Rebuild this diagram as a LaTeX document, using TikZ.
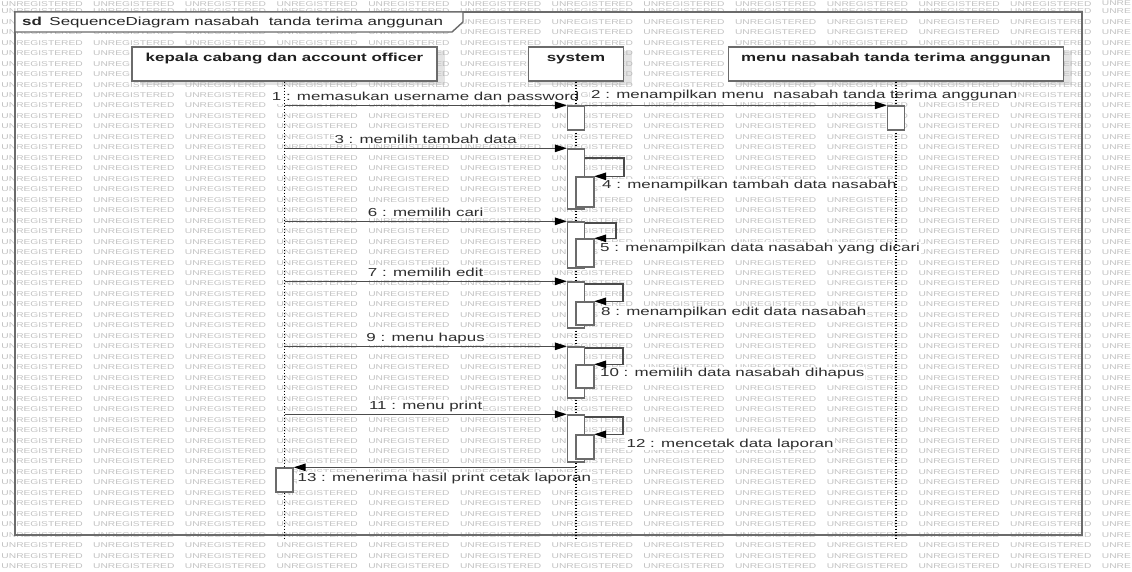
\documentclass[tikz,border=0pt]{standalone}
\usepackage{fontspec}
\setmainfont{Liberation Sans}[FakeStretch=1.46]
\usetikzlibrary{arrows.meta,shadows,backgrounds,calc}

\begin{document}
\begin{tikzpicture}[x=1pt,y=-1pt,
 font=\fontsize{11.6}{14}\selectfont,
 wm/.style={font=\fontsize{7}{7}\selectfont, text=black!24, inner sep=0, anchor=west},
 frame/.style={draw=black!58, line width=1.4pt},
 actor/.style={draw=black!58, line width=1.4pt, fill=white, inner sep=0,
   drop shadow={shadow xshift=8pt, shadow yshift=-4pt, fill=black!30, opacity=0.35}},
 acttext/.style={font=\fontsize{11.6}{14}\selectfont\bfseries, text=black!88, anchor=base, inner sep=0},
 life/.style={black, line width=1.1pt, dash pattern=on 1.3pt off 1.7pt},
 actbox/.style={draw=black!58, line width=1.4pt, fill=white, minimum width=17pt, inner sep=0},
 msg/.style={draw=black!70, line width=1.3pt, -{Triangle[length=12pt,width=7.5pt,color=black]}},
 lab/.style={fill=white, inner sep=1pt, text=black!82, anchor=base},
 labw/.style={fill=white, inner sep=1pt, text=black!82, anchor=base west}
]
\useasboundingbox (0,0) rectangle (1132,572);

% frame
\draw[frame] (15,12) rectangle (1082,535);
\draw[frame, fill=white] (15,12) -- (463,12) -- (463,22) -- (452,32) -- (15,32) -- cycle;
\node[anchor=base west, inner sep=0, text=black!85] (title) at (22,26) {\textbf{sd}\hspace{7.5pt}SequenceDiagram nasabah\ \ tanda terima anggunan};

% actors
\node[actor, minimum width=305pt, minimum height=34pt] (A) at (284.5,64) {};
\node[actor, minimum width=95pt, minimum height=34pt] (S) at (576,64) {};
\node[actor, minimum width=335pt, minimum height=34pt] (M) at (896,64) {};
\node[acttext] (At) at (284.5,61.7) {kepala cabang dan account officer};
\node[acttext] (St) at (576,61.7) {system};
\node[acttext] (Mt) at (896,61.7) {menu nasabah tanda terima anggunan};

% lifeline ends
\coordinate (Ae) at (284.5,540);
\coordinate (Se) at (576,540);
\coordinate (Me) at (896,540);
\draw[life] (A) -- (Ae);
\draw[life] (S) -- (Se);
\draw[life] (M) -- (Me);

% activation boxes
\node[actbox, minimum height=24pt] (S1) at (576,118) {};
\node[actbox, minimum height=24pt] (M1) at (896,118) {};
\node[actbox, minimum height=60pt] (S3) at (576,179) {};
\node[actbox, minimum height=30pt] (S4) at (585,192) {};
\node[actbox, minimum height=46pt] (S6) at (576,245) {};
\node[actbox, minimum height=28pt] (S5) at (585,253) {};
\node[actbox, minimum height=46pt] (S7) at (576,305) {};
\node[actbox, minimum height=23pt] (S8) at (585,313.5) {};
\node[actbox, minimum height=51pt] (S9) at (576,372.5) {};
\node[actbox, minimum height=23pt] (S10) at (585,376.5) {};
\node[actbox, minimum height=47pt] (S11) at (576,438.5) {};
\node[actbox, minimum height=24pt] (S12) at (585,447) {};
\node[actbox, minimum height=24pt] (A13) at (284.5,480) {};

% messages from actor
\draw[msg] (A |- S1.north) -- (S1.north west);
\draw[msg] (S1.north east) -- (M1.north west);
\draw[msg] (A |- S3.north) -- (S3.north west);
\draw[msg] (A |- S6.north) -- (S6.north west);
\draw[msg] (A |- S7.north) -- (S7.north west);
\draw[msg] (A |- S9.north) -- (S9.north west);
\draw[msg] (A |- S11.north) -- (S11.north west);
\draw[msg] (S |- A13.north) -- (A13.north east);

% self messages
\coordinate (c4) at (624,158);
\coordinate (c5) at (616,223);
\coordinate (c8) at (623,284);
\coordinate (c10) at (623,348);
\coordinate (c12) at (623,417);
\draw[msg] (S3.east |- c4) -- (c4) |- (S4.north east);
\draw[msg] (S6.east |- c5) -- (c5) |- (S5.north east);
\draw[msg] (S7.east |- c8) -- (c8) |- (S8.north east);
\draw[msg] (S9.east |- c10) -- (c10) |- (S10.north east);
\draw[msg] (S11.east |- c12) -- (c12) |- (S12.north east);

% redraw nested boxes over loops
\foreach \n in {S4,S5,S8,S10,S12}{\draw[draw=black!58, line width=1.4pt] (\n.north west) rectangle (\n.south east);}

\begin{scope}[on background layer]
  \fill[white] (0,0) rectangle (1132,572);
  \foreach \j in {-2,...,51}{
    \foreach \i in {0,...,11}{
      \node[wm] (wm-\i-\j) at ({1.3+91.7*\i},{32.3+10.47*\j}) {UNREGISTERED};}
    \node[wm] (wm-12-\j) at (1101.7,{32.3+10.47*\j}) {UNRE};}
  \foreach \i in {0,...,11}{
    \node[wm] (wm-\i-top) at ({1.3+91.7*\i},3.6) {UNREGISTERED};}
  \node[wm] (wm-12-top) at (1101.7,3.6) {UNRE};
  % labels
  \node[lab, yshift=5pt] (l1) at ($(A |- S1.north)!0.5!(S1.north west)$) {1 : memasukan username dan password};
  \node[labw] (l2) at (590,98.3) {2 : menampilkan menu\ \ nasabah tanda terima anggunan};
  \node[lab, yshift=5pt] (l3) at ($(A |- S3.north)!0.5!(S3.north west)$) {3 : memilih tambah data};
  \node[labw] (l4) at (601,188.3) {4 : menampilkan tambah data nasabah};
  \node[lab, yshift=5pt] (l6) at ($(A |- S6.north)!0.5!(S6.north west)$) {6 : memilih cari};
  \node[labw] (l5) at (599,251.7) {5 : menampilkan data nasabah yang dicari};
  \node[lab, yshift=5pt] (l7) at ($(A |- S7.north)!0.5!(S7.north west)$) {7 : memilih edit};
  \node[labw] (l8) at (600,315) {8 : menampilkan edit data nasabah};
  \node[lab, yshift=5pt] (l9) at ($(A |- S9.north)!0.5!(S9.north west)$) {9 : menu hapus};
  \node[labw] (l10) at (599,376.5) {10 : memilih data nasabah dihapus};
  \node[lab, yshift=5pt] (l11) at ($(A |- S11.north)!0.5!(S11.north west)$) {11 : menu print};
  \node[labw] (l12) at (625.5,447) {12 : mencetak data laporan};
  \node[labw] (l13) at (296.5,481.5) {13 : menerima hasil print cetak laporan};
\end{scope}
\end{tikzpicture}
\end{document}
